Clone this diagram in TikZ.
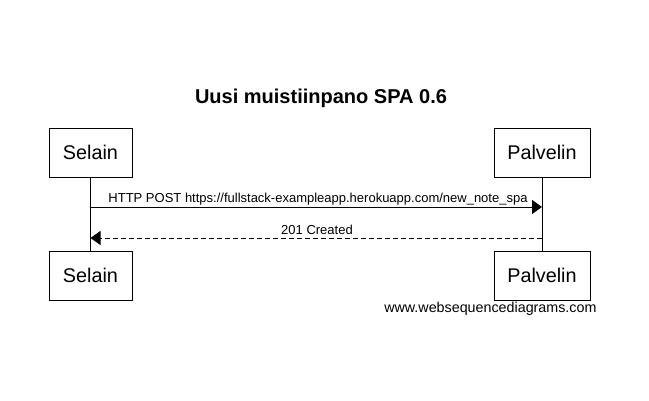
\documentclass[tikz,border=0pt]{standalone}
\usepackage{fontspec}
\setmainfont{Liberation Sans}
\usetikzlibrary{arrows.meta}
\tikzset{actor/.style={draw,minimum height=49pt,inner sep=0pt,font=\fontsize{19.8}{22}\selectfont},
         msg/.style={-{Triangle[length=10pt,width=14pt]}},
         lbl/.style={font=\fontsize{13}{15}\selectfont,inner sep=0pt}}
\begin{document}
\begin{tikzpicture}[x=1pt,y=-1pt,line width=1pt]
    \useasboundingbox (0,0) rectangle (649,400);
    \node[font=\bfseries\fontsize{20}{22}\selectfont] (title) at (321,98) {Uusi muistiinpano SPA 0.6};
    \node[actor,minimum width=83pt] (s1) at (90.5,152.5) {Selain};
    \node[actor,minimum width=96pt] (p1) at (542,152.5) {Palvelin};
    \node[actor,minimum width=83pt] (s2) at (90.5,275.5) {Selain};
    \node[actor,minimum width=96pt] (p2) at (542,275.5) {Palvelin};
    \draw (s1) -- (s2);
    \draw (p1) -- (p2);
    \coordinate (sa) at (90.5,207);
    \coordinate (pa) at (542,207);
    \coordinate (sb) at (90.5,238);
    \coordinate (pb) at (542,238);
    \draw[msg] (sa) -- (pa);
    \node[lbl] (post) at (318,199) {HTTP POST https://fullstack-exampleapp.herokuapp.com/new\_note\_spa};
    \draw[msg,dashed,dash pattern=on 5pt off 3pt] (pb) -- (sb);
    \node[lbl] (created) at (317,230) {201 Created};
    \node[font=\fontsize{14.3}{16}\selectfont,anchor=east,inner sep=0pt] (wsd) at (597,309) {www.websequencediagrams.com};
\end{tikzpicture}
\end{document}
